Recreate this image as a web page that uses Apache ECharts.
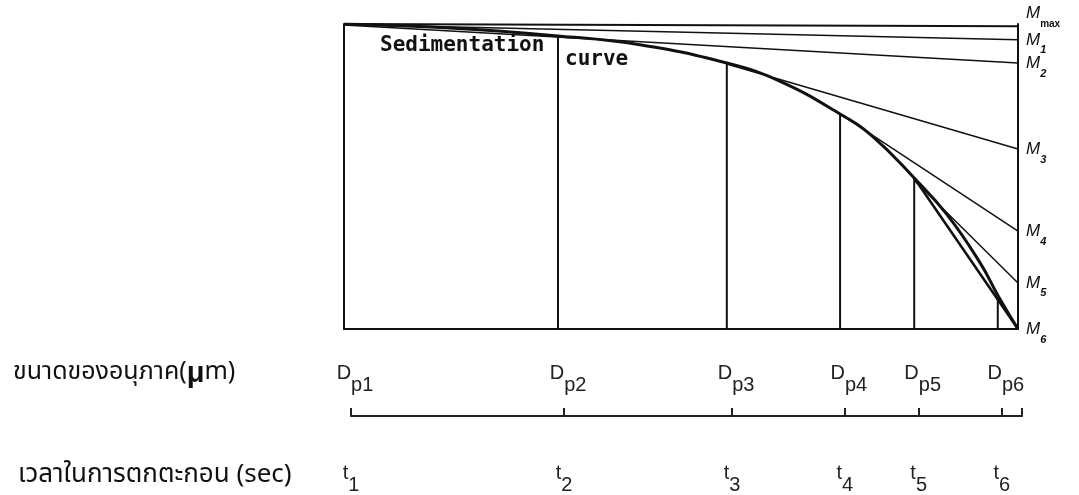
<!DOCTYPE html>
<html>
<head>
<meta charset="utf-8">
<script src="https://cdn.jsdelivr.net/npm/echarts@6/dist/echarts.min.js"></script>
<style>
  html, body { margin: 0; padding: 0; background: #fff; }
  #chart { width: 1079px; height: 495px; }
</style>
</head>
<body>
<div id="chart"></div>
<script>
// sedimentation curve, x = time (0..100 across the box), y = mass (0..100)
const curveX = [0, 15.7, 31.75, 43.9, 56.8, 64.7, 73.6, 78.5, 84.6, 89.5, 94.4, 97.0, 100];
const curveY = [100, 98.7, 96.1, 93.2, 87.2, 81.2, 70.5, 63.0, 49.5, 37.4, 21.6, 11.1, 0];

// t1..t6 positions and the drop lines under the curve
const timeTicks = [0, 31.75, 56.8, 73.6, 84.6, 97.0];
const dropHeights = [96.1, 87.2, 70.5, 49.5, 11.1];
const sizeSubs = ['p1', 'p2', 'p3', 'p4', 'p5', 'p6'];
const timeSubs = ['1', '2', '3', '4', '5', '6'];

// tangent lines: start point and the value where they hit the right edge
const tangentSubs = ['1', '2', '3', '4', '5', '6'];
const tangentStartX = [0, 0, 56.8, 73.6, 84.6, 84.6];
const tangentStartY = [99.8, 99.7, 86.9, 70.5, 48.8, 49.5];
const tangentEndY = [94.8, 87.2, 59.0, 32.1, 15.1, 0];
const mmaxLine = [100, 99.3];

const black = '#111';
const chart = echarts.init(document.getElementById('chart'));

function indexOfTick(v) {
    for (let i = 0; i < timeTicks.length; i++) {
        if (Math.abs(timeTicks[i] - v) < 1e-6) return i;
    }
    return -1;
}

const mRich = {
    m: { fontFamily: 'Liberation Sans', fontStyle: 'italic', fontSize: 17, color: black, lineHeight: 24, verticalAlign: 'top' },
    s: { fontFamily: 'Liberation Sans', fontStyle: 'italic', fontSize: 11, fontWeight: 'bold', color: black, lineHeight: 24, verticalAlign: 'bottom' },
    x: { fontFamily: 'Liberation Sans', fontSize: 10, fontWeight: 'bold', color: black, lineHeight: 20, verticalAlign: 'bottom' }
};

const subRich = {
    b: { fontFamily: 'Liberation Sans', fontSize: 20, color: '#222', lineHeight: 32, verticalAlign: 'top' },
    s: { fontFamily: 'Liberation Sans', fontSize: 20, color: '#222', lineHeight: 32, verticalAlign: 'bottom' }
};

const series = [];

series.push({
    name: 'Sedimentation curve',
    type: 'line',
    data: curveX.map((x, i) => [x, curveY[i]]),
    smooth: 0.45,
    showSymbol: false,
    lineStyle: { color: black, width: 3 },
    z: 5
});

series.push({
    name: 'Mmax',
    type: 'line',
    data: [[0, mmaxLine[0]], [100, mmaxLine[1]]],
    showSymbol: false,
    lineStyle: { color: black, width: 2 },
    endLabel: { show: true, formatter: '{m|M}{x|max}', rich: mRich, offset: [0, -9] }
});

tangentSubs.forEach((sub, i) => {
    series.push({
        name: 'M' + sub,
        type: 'line',
        data: [[tangentStartX[i], tangentStartY[i]], [100, tangentEndY[i]]],
        showSymbol: false,
        lineStyle: { color: black, width: i === 5 ? 2.5 : 1.5 },
        endLabel: { show: true, formatter: '{m|M}{s|' + sub + '}', rich: mRich, offset: [0, 4] }
    });
});

dropHeights.forEach((h, i) => {
    series.push({
        name: 'drop' + (i + 1),
        type: 'line',
        data: [[timeTicks[i + 1], 0], [timeTicks[i + 1], h]],
        showSymbol: false,
        lineStyle: { color: black, width: 2 }
    });
});

const option = {
    animation: false,
    backgroundColor: '#fff',
    grid: [
        { left: 344, right: 61, top: 24, bottom: 166 },
        { left: 351, right: 57, top: 340, bottom: 76 }
    ],
    xAxis: [
        {
            gridIndex: 0, type: 'value', min: 0, max: 100,
            axisLine: { show: true, onZero: false, lineStyle: { color: black, width: 2 } },
            axisTick: { show: false }, axisLabel: { show: false }, splitLine: { show: false }
        },
        {
            gridIndex: 1, type: 'value', min: 0, max: 100, position: 'bottom',
            axisLine: { show: true, onZero: false, lineStyle: { color: '#222', width: 2 } },
            axisTick: { show: true, inside: true, length: 8, customValues: timeTicks.concat([100]), lineStyle: { color: '#222', width: 2 } },
            axisLabel: {
                show: true, inside: true, margin: 21, customValues: timeTicks,
                padding: [0, 0, 0, 8],
                formatter: (v) => '{b|D}{s|' + sizeSubs[indexOfTick(v)] + '}',
                rich: subRich
            },
            splitLine: { show: false }
        },
        {
            gridIndex: 1, type: 'value', min: 0, max: 100, position: 'bottom',
            axisLine: { show: false }, axisTick: { show: false },
            axisLabel: {
                show: true, margin: 47, customValues: timeTicks,
                formatter: (v) => '{b|t}{s|' + timeSubs[indexOfTick(v)] + '}',
                rich: subRich
            },
            splitLine: { show: false }
        }
    ],
    yAxis: [
        {
            gridIndex: 0, type: 'value', min: 0, max: 100,
            axisLine: { show: true, onZero: false, lineStyle: { color: black, width: 2 } },
            axisTick: { show: false }, axisLabel: { show: false }, splitLine: { show: false }
        },
        {
            gridIndex: 0, type: 'value', min: 0, max: 100, position: 'right',
            axisLine: { show: true, onZero: false, lineStyle: { color: black, width: 2 } },
            axisTick: { show: false }, axisLabel: { show: false }, splitLine: { show: false }
        },
        { gridIndex: 1, type: 'value', min: 0, max: 1, show: false }
    ],
    graphic: [
        {
            type: 'text', left: 380, top: 35,
            style: { text: 'Sedimentation', font: 'bold 21px "DejaVu Sans Mono"', fill: black }
        },
        {
            type: 'text', left: 565, top: 49,
            style: { text: 'curve', font: 'bold 21px "DejaVu Sans Mono"', fill: black }
        },
        {
            type: 'text', x: 13, y: 374,
            style: {
                text: 'ขนาดของอนุภาค({mu|μ}m)',
                verticalAlign: 'middle',
                font: '25px "Noto Sans Thai", "Noto Sans", sans-serif', fill: '#111',
                rich: { mu: { font: 'bold 29px "Liberation Sans"', fill: '#111' } }
            }
        },
        {
            type: 'text', x: 18, y: 477,
            style: {
                text: 'เวลาในการตกตะกอน (sec)',
                verticalAlign: 'middle',
                font: '26px "Noto Sans Thai", "Noto Sans", sans-serif', fill: '#111'
            }
        }
    ],
    series: series
};

chart.setOption(option);

window.addEventListener('resize', () => {
    chart.resize();
});
</script>
</body>
</html>
